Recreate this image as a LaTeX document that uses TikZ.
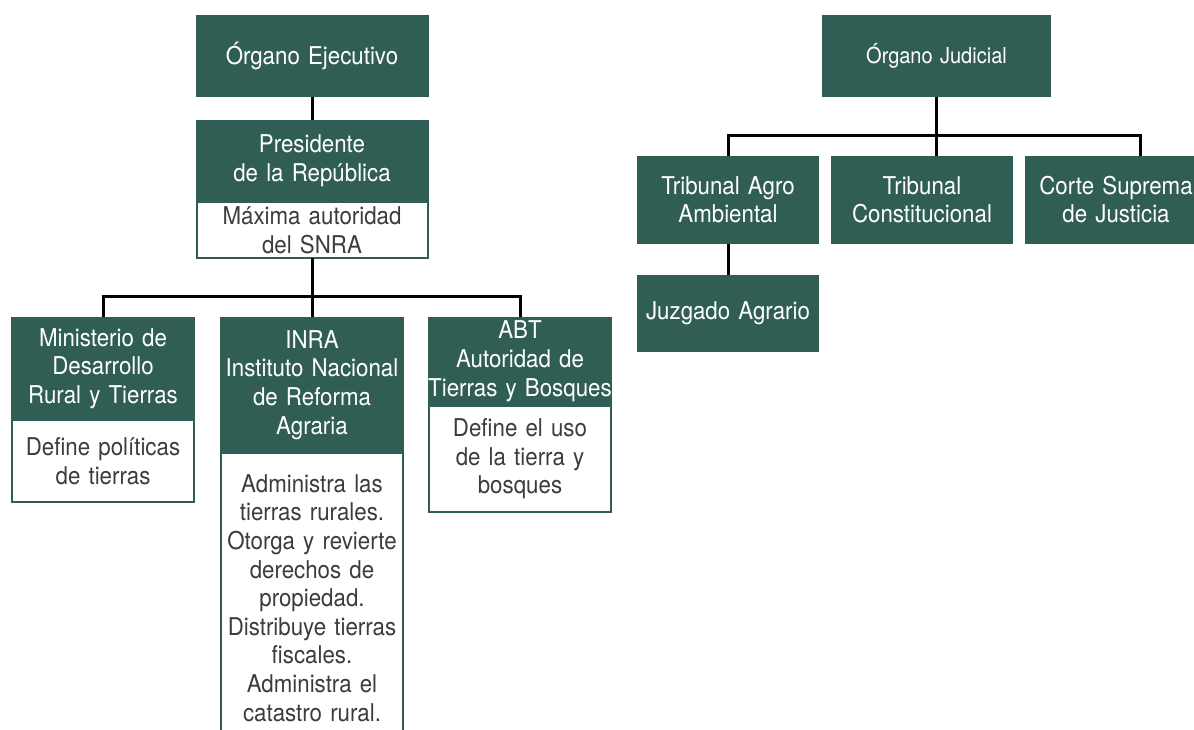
\documentclass[tikz,border=0pt]{standalone}
\usepackage{fontspec}
\setmainfont{TeX Gyre Heros}[FakeStretch=0.91,WordSpace=0.8]
\usepackage{tikz}
\usetikzlibrary{positioning,calc}
\definecolor{snragreen}{RGB}{49,94,84}
\definecolor{snratext}{RGB}{60,60,60}
\tikzset{
	chart/.style={x=1pt,y=-1pt,
		every node/.style={font=\fontsize{24.5}{28.6}\selectfont}},
	organ/.style={rectangle,fill=snragreen,text=white,inner sep=0pt,outer sep=0pt,
		align=center,minimum height=82pt},
	head/.style={organ,text width=184pt},
	desc/.style={rectangle,draw=snragreen,line width=2pt,fill=white,text=snratext,
		inner sep=0pt,outer sep=0pt,align=center,text width=182pt},
	link/.style={draw=black,line width=3pt}
}

\begin{document}
\begin{tikzpicture}[chart]
	\useasboundingbox (0,0) rectangle (1194,729);
	\clip (0,0) rectangle (1194,729);
	
	\node[organ,text width=233pt] (ejec) at (312,56) {Órgano Ejecutivo};
	\node[organ,text width=233pt] (pres) [below=23pt of ejec] {Presidente\\de la República};
	\node[desc,text width=231pt,minimum height=56pt] (presd) [below=0pt of pres] {Máxima autoridad\\del SNRA};
	
	\node[head,minimum height=103pt,anchor=north] (mdrt) at (103,317) {Ministerio de\\Desarrollo\\Rural y Tierras};
	\node[desc,minimum height=82pt] (mdrtd) [below=0pt of mdrt] {Define políticas\\de tierras};
	\node[head,minimum height=136pt,anchor=north] (inra) at (312,317) {INRA\\Instituto Nacional\\de Reforma\\Agraria};
	\node[desc,minimum height=290pt] (inrad) [below=0pt of inra] {Administra las\\tierras rurales.\\Otorga y revierte\\derechos de\\propiedad.\\Distribuye tierras\\fiscales.\\Administra el\\catastro rural.};
	\node[head,minimum height=88.5pt,anchor=north] (abt) at (520,317) {ABT\\Autoridad de\\Tierras y Bosques};
	\node[desc,minimum height=106.5pt] (abtd) [below=0pt of abt] {Define el uso\\de la tierra y\\bosques};
	
	\node[organ,text width=229pt,font=\fontsize{22}{26}\selectfont] (judi) at (936.5,56) {Órgano Judicial};
	\node[organ,text width=182pt,minimum height=88.5pt,anchor=north] (tagr) at (728,155.5) {Tribunal Agro\\Ambiental};
	\node[organ,text width=182pt,minimum height=88.5pt] (tcon) [right=12pt of tagr] {Tribunal\\Constitucional};
	\node[organ,text width=182pt,minimum height=88.5pt] (corte) [right=12pt of tcon] {Corte Suprema\\de Justicia};
	\node[organ,text width=182pt,minimum height=77pt] (juzg) [below=31pt of tagr] {Juzgado Agrario};
	
	\coordinate (lbus) at (312,296);
	\coordinate (rbus) at (936.5,135);
	
	\path[link] (ejec) -- (pres);
	\path[link] (presd) -- (lbus);
	\path[link] (mdrt.north) |- (lbus) -| (abt.north);
	\path[link] (lbus) -- (inra);
	
	\path[link] (judi) -- (judi.south |- tcon.north);
	\path[link] (tagr.north) |- (rbus) -| ([xshift=24pt]corte.north);
	\path[link] (tagr) -- (juzg);
\end{tikzpicture}
\end{document}
